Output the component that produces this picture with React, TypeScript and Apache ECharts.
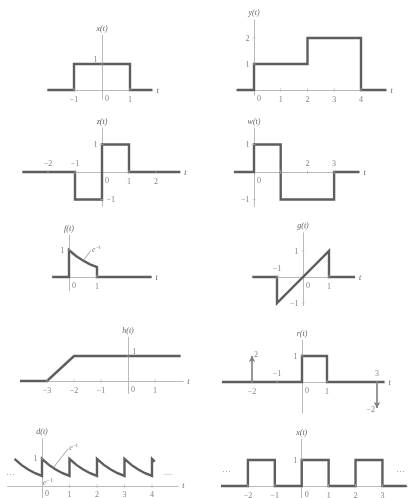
import { useEffect, useRef } from "react";
import * as echarts from "echarts";

// ---- signal data: [t, amplitude] breakpoints ----
const gateSig = [[-1.95, 0], [-1, 0], [-1, 1], [1, 1], [1, 0], [1.8, 0]];
const stairSig = [[-0.65, 0], [0, 0], [0, 1], [2, 1], [2, 2], [4, 2], [4, 0], [4.95, 0]];
const zSig = [[-2.95, 0], [-1, 0], [-1, -1], [0, -1], [0, 1], [1, 1], [1, 0], [2.9, 0]];
const wSig = [[-0.75, 0], [0, 0], [0, 1], [1, 1], [1, -1], [3, -1], [3, 0], [3.95, 0]];
// samples of e^{-t} over one unit of time
const decayOffsets = [0, 0.25, 0.5, 0.75, 1];
const decayValues = [1, 0.78, 0.61, 0.47, 0.37];
const gSig = [[-1.95, 0], [-1, 0], [-1, -1], [1, 1], [1, 0], [2, 0]];
const hSig = [[-4, 0], [-3, 0], [-2, 1], [1.95, 1]];
const rSig = [[-3.2, 0], [0, 0], [0, 1], [1, 1], [1, 0], [3.3, 0]];
const rImpulseT = [-2, 3];
const rImpulseArea = [2, -2];
const dPeriodStarts = [-1, 0, 1, 2, 3];
const pulseTrainSig = [
  [-3, 0], [-2, 0], [-2, 1], [-1, 1], [-1, 0], [0, 0], [0, 1], [1, 1], [1, 0],
  [2, 0], [2, 1], [3, 1], [3, 0], [3.9, 0],
];

// f(t) = e^{-t} on (0, 1)
const fSig = [
  [-0.6, 0], [0, 0],
  ...decayOffsets.map((o, k) => [o, decayValues[k]]),
  [1, 0], [2.95, 0],
];
// d(t): periodic e^{-t} segments
const dSig: number[][] = [];
dPeriodStarts.forEach((s, p) => {
  decayOffsets.forEach((o, k) => {
    if (p > 0 && k === 0) dSig.push([s, decayValues[decayValues.length - 1]]);
    dSig.push([s + o, decayValues[k]]);
  });
});
dSig.push([4, decayValues[decayValues.length - 1]], [4, 1], [4.1, 0.9]);

// tick labels on the t axis and on the amplitude axis
const gateTicks = [-1, 0, 1];
const gateLevels = [1];
const stairTicks = [0, 1, 2, 3, 4];
const stairLevels = [1, 2];
const zTicks = [-2, -1, 0, 1, 2];
const zLevels = [1, -1];
const wTicks = [0, 1, 2, 3];
const wLevels = [1, -1];
const fTicks = [0, 1];
const fLevels = [1];
const gTicks = [-1, 0, 1];
const gLevels = [1, -1];
const hTicks = [-3, -2, -1, 0, 1];
const hLevels = [1];
const rTicks = [-2, -1, 0, 1, 3];
const rLevels = [1];
const dTicks = [0, 1, 2, 3, 4];
const dLevels = [1];
const pTicks = [-2, -1, 0, 1, 2, 3];
const pLevels = [1];

const AXIS = "#b9b9b9";
const INK = "#5e5e5e";
const TEXT = "#626262";
const SERIF = "'Liberation Serif', 'DejaVu Serif', serif";

type Panel = {
  title: string;
  sig: number[][];
  ticks: number[];
  tickSide: string[]; // b = below, a = above, o = beside origin
  levels: number[];
  levelSide: string[]; // l, r, lu (left, lifted), ru
  box: number[]; // origin x, origin y, px per t, px per unit
  xr: number[];
  yr: number[];
  tName: boolean;
};

const panels: Panel[] = [
  { title: "x(t)", sig: gateSig, ticks: gateTicks, tickSide: ["b", "o", "b"], levels: gateLevels, levelSide: ["lu"],
    box: [102, 90, 28, 26], xr: [-1.95, 1.8], yr: [-0.35, 2.1], tName: true },
  { title: "y(t)", sig: stairSig, ticks: stairTicks, tickSide: ["o", "b", "b", "b", "b"], levels: stairLevels, levelSide: ["l", "l"],
    box: [254, 90, 26.75, 26], xr: [-0.65, 4.95], yr: [-0.2, 2.7], tName: true },
  { title: "z(t)", sig: zSig, ticks: zTicks, tickSide: ["a", "a", "o", "b", "b"], levels: zLevels, levelSide: ["l", "r"],
    box: [102, 172, 27, 27.5], xr: [-2.95, 2.9], yr: [-1.25, 1.6], tName: true },
  { title: "w(t)", sig: wSig, ticks: wTicks, tickSide: ["o", "a", "a", "a"], levels: wLevels, levelSide: ["l", "l"],
    box: [254, 172, 26.7, 27.5], xr: [-0.75, 3.95], yr: [-1.25, 1.6], tName: true },
  { title: "f(t)", sig: fSig, ticks: fTicks, tickSide: ["o", "b"], levels: fLevels, levelSide: ["l"],
    box: [69, 277, 28, 27], xr: [-0.6, 2.95], yr: [-0.5, 1.55], tName: true },
  { title: "g(t)", sig: gSig, ticks: gTicks, tickSide: ["a", "o", "b"], levels: gLevels, levelSide: ["l", "l"],
    box: [303, 277, 26, 26], xr: [-1.95, 2.0], yr: [-1.1, 1.7], tName: true },
  { title: "h(t)", sig: hSig, ticks: hTicks, tickSide: ["b", "b", "b", "o", "b"], levels: hLevels, levelSide: ["ru"],
    box: [128, 381, 27, 25], xr: [-4, 2.05], yr: [-0.5, 1.75], tName: true },
  { title: "r(t)", sig: rSig, ticks: rTicks, tickSide: ["b", "a", "o", "b", "a"], levels: rLevels, levelSide: ["l"],
    box: [302, 382, 25, 26], xr: [-3.2, 3.3], yr: [-1.2, 1.6], tName: true },
  { title: "d(t)", sig: dSig, ticks: dTicks, tickSide: ["o", "b", "b", "b", "b"], levels: dLevels, levelSide: ["l"],
    box: [42, 486, 27.5, 27], xr: [-1.25, 4.95], yr: [-0.45, 1.75], tName: true },
  { title: "x(t)", sig: pulseTrainSig, ticks: pTicks, tickSide: ["b", "b", "o", "b", "b", "b"], levels: pLevels, levelSide: ["l"],
    box: [302, 486, 27, 26], xr: [-3.0, 3.95], yr: [-0.45, 1.8], tName: false },
];

const fmt = (v: number) => (v < 0 ? "\u2212" + Math.abs(v) : String(v));

const textStyle = { fontFamily: SERIF, fontSize: 8, color: TEXT };
const italic = { fontFamily: SERIF, fontSize: 8, color: TEXT, fontStyle: "italic" as const };
const expRich = {
  e: { fontFamily: SERIF, fontSize: 8, color: TEXT, fontStyle: "italic" },
  s: { fontFamily: SERIF, fontSize: 6, color: TEXT, padding: [0, 0, 5, 0] },
};

const hidden = { symbol: "rect", symbolSize: 0.1, itemStyle: { color: "rgba(0,0,0,0)" } };
const dots = (t: number, v: number) => ({
  value: [t, v], ...hidden,
  label: { show: true, position: "inside", formatter: "\u00b7\u00b7\u00b7", ...textStyle, fontSize: 9 },
});

function buildOption() {
  const grid: any[] = [];
  const xAxis: any[] = [];
  const yAxis: any[] = [];
  const series: any[] = [];

  panels.forEach((p, i) => {
    const [ox, oy, ux, uy] = p.box;
    grid.push({
      left: ox + p.xr[0] * ux,
      top: oy - p.yr[1] * uy,
      width: (p.xr[1] - p.xr[0]) * ux,
      height: (p.yr[1] - p.yr[0]) * uy,
    });
    xAxis.push({
      type: "value", gridIndex: i, min: p.xr[0], max: p.xr[1],
      axisLine: { onZero: true, lineStyle: { color: AXIS, width: 1 } },
      axisTick: { show: false }, axisLabel: { show: false }, splitLine: { show: false },
      name: p.tName ? "t" : "", nameLocation: "end", nameGap: 4, nameTextStyle: italic,
    });
    yAxis.push({
      type: "value", gridIndex: i, min: p.yr[0], max: p.yr[1],
      axisLine: { onZero: true, lineStyle: { color: AXIS, width: 1 } },
      axisTick: { show: false }, axisLabel: { show: false }, splitLine: { show: false },
      name: p.title, nameLocation: "end", nameGap: 3, nameTextStyle: italic,
    });

    const marks: any[] = [];
    p.ticks.forEach((t, k) => {
      const side = p.tickSide[k];
      if (side === "o") {
        marks.push({ value: [t, 0], ...hidden,
          label: { show: true, formatter: fmt(t), position: "bottom", distance: 4, offset: [5, 0], ...textStyle } });
      } else {
        marks.push({ value: [t, 0], symbol: "rect", symbolSize: [0.8, 4], itemStyle: { color: AXIS },
          label: { show: true, formatter: fmt(t), position: side === "a" ? "top" : "bottom", distance: 3, ...textStyle } });
      }
    });
    p.levels.forEach((v, k) => {
      const side = p.levelSide[k];
      const right = side[0] === "r";
      marks.push({ value: [0, v], symbol: "rect", symbolSize: [3, 0.8], itemStyle: { color: AXIS },
        label: { show: true, formatter: fmt(v), position: right ? "right" : "left", distance: 3,
          offset: side.length > 1 ? [0, -5] : [0, 0], ...textStyle } });
    });

    const line: any = {
      type: "line", xAxisIndex: i, yAxisIndex: i, data: p.sig, symbol: "none", silent: true, z: 3,
      lineStyle: { color: INK, width: 2.4, join: "miter" },
    };

    if (p.title === "f(t)") {
      line.markLine = { silent: true, symbol: ["none", "none"], label: { show: false },
        lineStyle: { color: "#8a8a8a", width: 0.8, type: "solid" },
        data: [[{ coord: [0.5, 0.6] }, { coord: [0.78, 0.98] }]] };
      marks.push({ value: [0.78, 1.02], ...hidden,
        label: { show: true, position: "right", distance: 1, formatter: "{e|e}{s|\u2212t}", rich: expRich } });
    }
    if (p.title === "d(t)") {
      line.markLine = { silent: true, symbol: ["none", "none"], label: { show: false },
        lineStyle: { color: "#8a8a8a", width: 0.8, type: "solid" },
        data: [[{ coord: [0.4, 0.66] }, { coord: [0.95, 1.38] }]] };
      marks.push({ value: [0.95, 1.42], ...hidden,
        label: { show: true, position: "right", distance: 1, formatter: "{e|e}{s|\u2212t}", rich: expRich } });
      marks.push({ value: [0, decayValues[decayValues.length - 1]], ...hidden,
        label: { show: true, position: "bottom", distance: 1, offset: [6, 0], formatter: "{e|e}{s|\u22121}", rich: expRich } });
      marks.push(dots(-1.15, 0.45), dots(4.58, 0.45));
    }
    if (p.title === "r(t)") {
      line.markLine = { silent: true, symbol: ["none", "arrow"], symbolSize: [5, 6], label: { show: false },
        lineStyle: { color: "#7e7e7e", width: 1.6, type: "solid" },
        data: rImpulseT.map((t, k) => [{ coord: [t, 0] }, { coord: [t, Math.sign(rImpulseArea[k])] }]) };
      rImpulseT.forEach((t, k) => {
        const up = rImpulseArea[k] > 0;
        marks.push({ value: [t, Math.sign(rImpulseArea[k])], ...hidden,
          label: { show: true, formatter: fmt(rImpulseArea[k]), position: up ? "right" : "left",
            distance: 2, offset: up ? [0, -2] : [0, 1], ...textStyle } });
      });
    }
    if (p.title === "x(t)" && !p.tName) {
      marks.push(dots(-2.8, 0.58), dots(3.67, 0.58));
    }

    series.push(line);
    series.push({ type: "scatter", xAxisIndex: i, yAxisIndex: i, data: marks, silent: true, z: 4 });
  });

  return { animation: false, backgroundColor: "#ffffff", grid, xAxis, yAxis, series };
}

export default function App() {
  const ref = useRef<HTMLDivElement>(null);
  useEffect(() => {
    if (!ref.current) return;
    const chart = echarts.init(ref.current, undefined, { renderer: "svg" });
    chart.setOption(buildOption() as any);
    return () => chart.dispose();
  }, []);
  return (
    <div
      ref={ref}
      style={{ position: "fixed", left: 0, top: 0, width: 408, height: 498, background: "#fff", filter: "grayscale(1)" }}
    />
  );
}
